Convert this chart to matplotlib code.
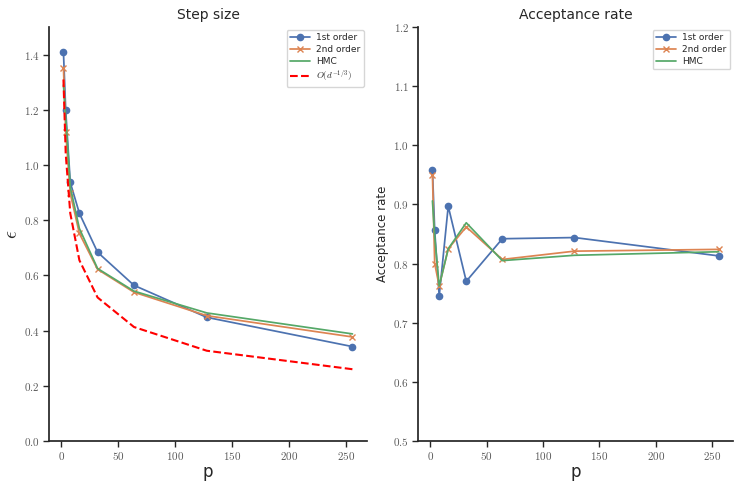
import matplotlib
matplotlib.use("Agg")
import matplotlib.pyplot as plt
import seaborn as sns
from matplotlib.ticker import FuncFormatter, MultipleLocator

sns.set_theme(style="ticks", palette="deep")
plt.rcParams['font.family'] = ['DejaVu Sans']
plt.rcParams['mathtext.fontset'] = 'cm'

p = [2, 4, 8, 16, 32, 64, 128, 256]

step_1st = [1.41, 1.198, 0.937, 0.825, 0.684, 0.564, 0.448, 0.342]
step_2nd = [1.353, 1.118, 0.897, 0.752, 0.622, 0.539, 0.454, 0.377]
step_hmc = [1.29, 1.17, 0.92, 0.77, 0.625, 0.543, 0.464, 0.388]
step_ref = [1.31, 1.04, 0.825, 0.655, 0.52, 0.413, 0.327, 0.26]

acc_1st = [0.959, 0.856, 0.745, 0.897, 0.770, 0.842, 0.844, 0.813]
acc_2nd = [0.950, 0.800, 0.762, 0.825, 0.862, 0.807, 0.821, 0.824]
acc_hmc = [0.906, 0.845, 0.762, 0.825, 0.869, 0.805, 0.814, 0.820]

labels = ["1st order", "2nd order", "HMC", r"$O(d^{-1/3})$"]

pal = sns.color_palette("deep")
fig = plt.figure(figsize=(7.48, 4.87), dpi=100)
ax1 = fig.add_axes([0.0655, 0.0945, 0.425, 0.850])
ax2 = fig.add_axes([0.559, 0.0945, 0.421, 0.850])

fmt = FuncFormatter(lambda v, pos: r"$%.1f$" % v)
fmtx = FuncFormatter(lambda v, pos: r"$%d$" % round(v))

MS = 4.5
LW = 1.25
ax1.plot(p, step_1st, marker='o', ms=MS, lw=LW, color=pal[0], label=labels[0])
ax1.plot(p, step_2nd, marker='x', ms=MS, lw=LW, color=pal[1], label=labels[1])
ax1.plot(p, step_hmc, lw=LW, color=pal[2], label=labels[2])
ax1.plot(p, step_ref, ls='--', lw=1.5, color='red', label=labels[3])
ax1.set_ylim(0, 1.5)
ax1.yaxis.set_major_locator(MultipleLocator(0.2))
ax1.set_title("Step size", fontsize=10, pad=6)
ax1.set_ylabel(r"$\epsilon$", fontsize=14, labelpad=2)
ax1.set_xlabel("p", fontsize=12, labelpad=1)

ax2.plot(p, acc_1st, marker='o', ms=MS, lw=LW, color=pal[0], label=labels[0])
ax2.plot(p, acc_2nd, marker='x', ms=MS, lw=LW, color=pal[1], label=labels[1])
ax2.plot(p, acc_hmc, lw=LW, color=pal[2], label=labels[2])
ax2.set_ylim(0.5, 1.2)
ax2.yaxis.set_major_locator(MultipleLocator(0.1))
ax2.set_title("Acceptance rate", fontsize=10, pad=6)
ax2.set_ylabel("Acceptance rate", fontsize=8.5, labelpad=3)
ax2.set_xlabel("p", fontsize=12, labelpad=1)

for ax in (ax1, ax2):
    ax.xaxis.set_major_locator(MultipleLocator(50))
    ax.yaxis.set_major_formatter(fmt)
    ax.xaxis.set_major_formatter(fmtx)
    ax.tick_params(labelsize=8, labelcolor='0.35', length=4, width=1, pad=2.5)
    ax.legend(loc='upper right', fontsize=6.5, frameon=True, labelspacing=0.3,
              handlelength=2.2, handletextpad=0.7, borderpad=0.4,
              borderaxespad=0.3)
    sns.despine(ax=ax)

fig.savefig("out.png", dpi=100)
